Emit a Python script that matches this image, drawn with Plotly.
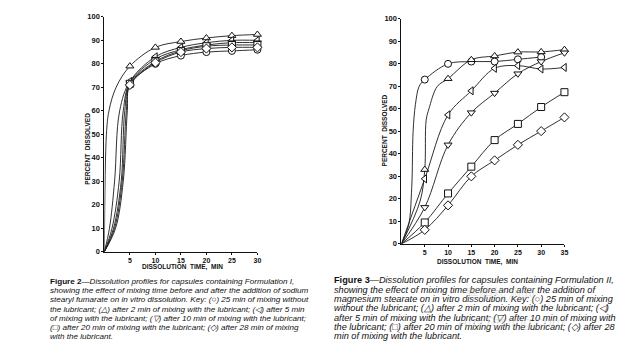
import plotly.graph_objects as go

W, H = 637, 356
OFF = 8  # page body margin in the browser

# ---------------- Figure 2 (Formulation I) ----------------
f2_t_marks = [5, 10, 15, 20, 25, 30]
f2_circle = [71, 80, 83.5, 85, 85.5, 86]
f2_tri_up = [79, 87, 89.5, 91, 92, 92.5]
f2_tri_left = [72.5, 83, 87, 89, 90, 90]
f2_tri_down = [72, 82, 86, 88, 89, 89]
f2_square = [71.5, 81, 85.5, 87.5, 88, 88]
f2_diamond = [71, 80.5, 85, 86.5, 87, 87]

# early (unmarked) parts of the drawn curves
f2_early_t = {
    "circle": [0, 2.2, 3.7, 4.5],
    "tri_up": [0, 0.4, 0.9, 2.3],
    "tri_left": [0, 1.0, 2.0, 3.0],
    "tri_down": [0, 1.5, 2.9, 3.7],
    "square": [0, 1.8, 3.3, 4.0],
    "diamond": [0, 2.0, 3.5, 4.3],
}
f2_early_v = {
    "circle": [0, 10, 30, 60],
    "tri_up": [0, 50, 60, 70],
    "tri_left": [0, 10, 30, 60],
    "tri_down": [0, 10, 30, 60],
    "square": [0, 10, 30, 60],
    "diamond": [0, 10, 30, 60],
}

# ---------------- Figure 3 (Formulation II) ----------------
f3_t_marks = [5, 10, 15, 20, 25, 30, 35]
f3_circle = [73, 80, 81, 81, 82, 83]
f3_tri_up = [33, 73.4, 81.8, 83.5, 85.2, 85.3, 86.3]
f3_tri_left = [28.9, 57.3, 68, 78, 79.2, 77.7, 78.4]
f3_tri_down = [16.2, 44, 58.3, 67, 75.6, 81, 84.9]
f3_square = [9.5, 22.4, 34.3, 46.1, 53.3, 60.8, 67.4]
f3_diamond = [6.2, 17.1, 30, 37.1, 44, 50.1, 56.2]

f3_early_t = {
    "circle": [0, 1.5, 2.2, 2.5, 3.0, 3.8],
    "tri_up": [0, 4.0],
    "tri_left": [0],
    "tri_down": [0],
    "square": [0],
    "diamond": [0],
}
f3_early_v = {
    "circle": [0, 8, 25, 50, 62, 70],
    "tri_up": [0, 19],
    "tri_left": [0],
    "tri_down": [0],
    "square": [0],
    "diamond": [0],
}
f3_tri_up_mid_t = [5.3, 5.9, 7.7]
f3_tri_up_mid_v = [55, 60, 70]

x_ticks_f2 = [5, 10, 15, 20, 25, 30]
x_ticks_f3 = [5, 10, 15, 20, 25, 30, 35]
y_ticks = [0, 10, 20, 30, 40, 50, 60, 70, 80, 90, 100]

symbols = {
    "circle": "circle",
    "tri_up": "triangle-up",
    "tri_left": "triangle-left",
    "tri_down": "triangle-down",
    "square": "square",
    "diamond": "diamond",
}

f2_series = {
    "circle": f2_circle, "tri_up": f2_tri_up, "tri_left": f2_tri_left,
    "tri_down": f2_tri_down, "square": f2_square, "diamond": f2_diamond,
}
f3_series = {
    "circle": f3_circle, "tri_up": f3_tri_up, "tri_left": f3_tri_left,
    "tri_down": f3_tri_down, "square": f3_square, "diamond": f3_diamond,
}

caption2 = [
    "<b>Figure 2</b>—<i>Dissolution profiles for capsules containing Formulation I,</i>",
    "<i>showing the effect of mixing time before and after the addition of sodium</i>",
    "<i>stearyl fumarate on in vitro dissolution. Key: (○) 25 min of mixing without</i>",
    "<i>the lubricant; (△) after 2 min of mixing with the lubricant; (◁) after 5 min</i>",
    "<i>of mixing with the lubricant; (▽) after 10 min of mixing with the lubricant;</i>",
    "<i>(□) after 20 min of mixing with the lubricant; (◇) after 28 min of mixing</i>",
    "<i>with the lubricant.</i>",
]
caption3 = [
    "<b>Figure 3</b>—<i>Dissolution profiles for capsules containing Formulation II,</i>",
    "<i>showing the effect of mixing time before and after the addition of</i>",
    "<i>magnesium stearate on in vitro dissolution. Key: (○) 25 min of mixing</i>",
    "<i>without the lubricant; (△) after 2 min of mixing with the lubricant; (◁)</i>",
    "<i>after 5 min of mixing with the lubricant; (▽) after 10 min of mixing with</i>",
    "<i>the lubricant; (□) after 20 min of mixing with the lubricant; (◇) after 28</i>",
    "<i>min of mixing with the lubricant.</i>",
]

FW, FH = W - OFF, H - OFF
fig = go.Figure()
LINE = dict(color="#1a1a1a", width=0.9, shape="spline", smoothing=1.0)


def px_x(p):
    return (p - OFF) / FW


def px_y(p):
    return 1 - (p - OFF) / FH


def add_series(xa, ya, t_marks, vals, early_t, early_v, sym, mid_t=None, mid_v=None):
    n = len(vals)
    tm = t_marks[:n]
    lt = list(early_t) + (list(mid_t) if mid_t else [])
    lv = list(early_v) + (list(mid_v) if mid_v else [])
    pts = sorted(list(zip(lt, lv)) + list(zip(tm, vals)))
    fig.add_trace(go.Scatter(x=[p[0] for p in pts], y=[p[1] for p in pts],
                             mode="lines", line=LINE, xaxis=xa, yaxis=ya,
                             hoverinfo="skip", showlegend=False))
    fig.add_trace(go.Scatter(x=tm, y=vals, mode="markers", xaxis=xa, yaxis=ya,
                             marker=dict(symbol=sym, size=7, color="white",
                                         line=dict(color="#111", width=1)),
                             showlegend=False, cliponaxis=False))


for k, vals in f2_series.items():
    add_series("x", "y", f2_t_marks, vals, f2_early_t[k], f2_early_v[k], symbols[k])
for k, vals in f3_series.items():
    if k == "tri_up":
        add_series("x2", "y2", f3_t_marks, vals, f3_early_t[k], f3_early_v[k], symbols[k],
                   f3_tri_up_mid_t, f3_tri_up_mid_v)
    else:
        add_series("x2", "y2", f3_t_marks, vals, f3_early_t[k], f3_early_v[k], symbols[k])

yfont = dict(family="Liberation Sans, Arial, sans-serif", size=7.5, color="#111", weight="bold")
xfont = dict(family="Liberation Sans, Arial, sans-serif", size=7, color="#111", weight="bold")
common = dict(showline=True, linecolor="#111", linewidth=1, ticks="outside", ticklen=2,
              tickwidth=1, tickcolor="#111", showgrid=False, zeroline=False, fixedrange=True)

fig.update_layout(
    width=FW, height=FH, margin=dict(l=0, r=0, t=0, b=0),
    paper_bgcolor="white", plot_bgcolor="white",
    xaxis=dict(domain=[px_x(105), px_x(259)], range=[0, 30], tickvals=x_ticks_f2,
               anchor="y", tickfont=xfont, **common),
    yaxis=dict(domain=[px_y(254), px_y(13)], range=[0, 100], tickvals=y_ticks,
               anchor="x", tickfont=yfont, **common),
    xaxis2=dict(domain=[px_x(404), px_x(568)], range=[0, 35], tickvals=x_ticks_f3,
                anchor="y2", tickfont=xfont, **common),
    yaxis2=dict(domain=[px_y(246), px_y(15)], range=[0, 100], tickvals=y_ticks,
                anchor="x2", tickfont=yfont, **common),
)

ann = []
titlefont = dict(family="Liberation Sans, Arial, sans-serif", size=6.5, color="#111", weight="bold")
ann.append(dict(text="DISSOLUTION  TIME,  MIN", x=px_x(184), y=px_y(270), xref="paper", yref="paper",
                showarrow=False, font=titlefont, xanchor="center", yanchor="middle"))
ann.append(dict(text="DISSOLUTION  TIME,  MIN", x=px_x(481), y=px_y(264.5), xref="paper", yref="paper",
                showarrow=False, font=titlefont, xanchor="center", yanchor="middle"))
ann.append(dict(text="PERCENT  DISSOLVED", x=px_x(88), y=px_y(148), xref="paper", yref="paper",
                showarrow=False, font=titlefont, textangle=-90, xanchor="center", yanchor="middle"))
ann.append(dict(text="PERCENT  DISSOLVED", x=px_x(387), y=px_y(130), xref="paper", yref="paper",
                showarrow=False, font=titlefont, textangle=-90, xanchor="center", yanchor="middle"))

cap2_y = [285, 294.3, 303.6, 312.9, 322.2, 331.5, 340.8]
cap3_y = [283.3, 292.9, 302.5, 312.1, 321.7, 331.3, 340.9]
for line, yy in zip(caption2, cap2_y):
    ann.append(dict(text=line, x=px_x(48), y=px_y(yy), xref="paper", yref="paper", showarrow=False,
                    xanchor="left", yanchor="middle",
                    font=dict(family="Liberation Sans, Arial, sans-serif", size=8.1, color="#111")))
for line, yy in zip(caption3, cap3_y):
    ann.append(dict(text=line, x=px_x(334), y=px_y(yy), xref="paper", yref="paper", showarrow=False,
                    xanchor="left", yanchor="middle",
                    font=dict(family="Liberation Sans, Arial, sans-serif", size=9.2, color="#111")))

# faint watermark
ann.append(dict(text="嘉峪检测网", x=px_x(540), y=px_y(309), xref="paper", yref="paper", showarrow=False,
                font=dict(family="Noto Sans CJK SC", size=14, color="rgba(180,180,180,0.35)")))
ann.append(dict(text="<i>AnyTesting.com</i>", x=px_x(570), y=px_y(337), xref="paper", yref="paper",
                showarrow=False,
                font=dict(family="Liberation Sans, Arial, sans-serif", size=15, color="rgba(180,180,180,0.35)")))

fig.update_layout(annotations=ann)
fig.write_html("out.html")
